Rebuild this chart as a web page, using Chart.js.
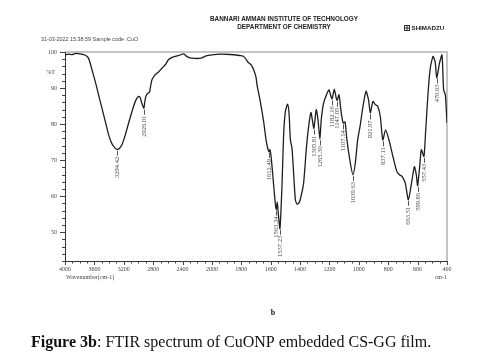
<!DOCTYPE html>
<html>
<head>
<meta charset="utf-8">
<script src="https://cdn.jsdelivr.net/npm/chart.js@4.4.1/dist/chart.umd.min.js"></script>
<style>
  html, body { margin: 0; padding: 0; background: #fff; }
  canvas { display: block; }
</style>
</head>
<body>
<canvas id="ftir" width="500" height="364"></canvas>
<script>
/* FTIR espectro CuONP / CS-GG (Shimadzu), eixo x com mudança de escala em 2000 cm-1 */

const wavenumbers = [
  4000, 3950, 3900, 3850, 3800, 3750, 3720, 3680, 3633, 3588, 3543, 3497, 3451, 3406, 3360, 3320,
  3294, 3260, 3224, 3179, 3134, 3088, 3043, 2998, 2980, 2961, 2945, 2926, 2915, 2900, 2884, 2862,
  2850, 2839, 2816, 2771, 2720, 2680, 2630, 2590, 2540, 2498, 2440, 2385, 2360, 2339, 2300, 2271,
  2200, 2135, 2080, 2000, 1943, 1875, 1807, 1790, 1773, 1760, 1750, 1734, 1716, 1700, 1693, 1671,
  1648, 1630, 1612, 1605, 1596, 1580, 1570, 1563, 1555, 1550, 1537, 1523, 1512, 1500, 1485, 1475,
  1466, 1455, 1444, 1432, 1421, 1410, 1399, 1376, 1358, 1342, 1326, 1316, 1306, 1290, 1278, 1265,
  1256, 1240, 1221, 1203, 1190, 1182, 1167, 1154, 1147, 1135, 1121, 1107, 1094, 1081, 1058, 1040,
  1024, 1008, 990, 972, 951, 934, 922, 904, 888, 872, 854, 837, 818, 795, 768, 741,
  720, 706, 684, 663, 638, 622, 609, 600, 586, 575, 557, 546, 529, 514, 495, 480,
  470, 451, 434, 423, 411, 400
];
const transmittance = [
  99.2, 99.4, 99.3, 99.6, 99.5, 99.3, 99.1, 98.3, 95.1, 91.8, 88.1, 84.4, 80.7, 77.0, 74.5, 73.4,
  73.0, 73.2, 74.3, 77.0, 80.3, 83.5, 86.3, 87.7, 87.5, 86.3, 85.2, 84.4, 86.0, 87.6, 88.3, 88.7,
  88.8, 90.0, 92.3, 93.7, 94.6, 95.5, 96.6, 97.9, 98.5, 98.8, 99.1, 99.5, 99.1, 98.7, 98.4, 98.3,
  98.2, 98.4, 98.9, 99.2, 99.4, 99.3, 99.0, 98.9, 98.3, 97.5, 97.0, 96.5, 95.1, 93.0, 90.9, 86.3,
  80.7, 75.2, 72.3, 72.9, 70.5, 63.1, 58.5, 56.3, 58.3, 56.0, 51.0, 63.0, 77.0, 83.5, 85.5, 83.0,
  75.6, 73.3, 66.4, 59.0, 57.8, 58.0, 59.0, 63.6, 72.9, 79.3, 83.2, 81.0, 78.8, 84.0, 81.2, 75.8,
  81.2, 85.8, 88.1, 89.5, 87.7, 87.0, 89.7, 87.2, 86.6, 88.1, 83.5, 80.3, 80.6, 75.6, 69.2, 65.9,
  69.2, 75.6, 79.8, 84.9, 89.1, 86.7, 83.1, 86.3, 85.4, 85.0, 82.1, 75.6, 78.4, 75.6, 71.0, 66.8,
  65.8, 65.5, 63.6, 59.0, 64.5, 68.2, 66.0, 62.9, 68.2, 72.9, 71.0, 77.5, 88.6, 95.5, 98.8, 97.1,
  92.8, 96.9, 99.2, 89.5, 88.0, 80.3
];

// picos marcados no espectro
const peakWaves  = [3294.42, 2926.01, 1612.49, 1563.34, 1537.23, 1305.81, 1265.30, 1182.16, 1147.05,
                    1107.14, 1039.63, 921.97, 837.11, 663.51, 599.86, 557.43, 470.63];
const peakLabels = ['3294.42', '2926.01', '1612.49', '1563.34', '1537.23', '1305.81', '1265.30', '1182.16', '1147.05',
                    '1107.14', '1039.63', '921.97', '837.11', '663.51', '599.86', '557.43', '470.63'];

const xTicks = [4000, 3600, 3200, 2800, 2400, 2000, 1800, 1600, 1400, 1200, 1000, 800, 600, 400];
const yTicks = [100, 90, 80, 70, 60, 50];
const yTickLabels = ['100', '90', '80', '70', '60', '50'];

const SPLIT = 2000;   // abaixo disso a escala fica 2x expandida
const warp = v => v <= SPLIT ? v : SPLIT + (v - SPLIT) / 2;
const unwarp = w => w <= SPLIT ? w : SPLIT + (w - SPLIT) * 2;

class WaveScale extends Chart.LinearScale {
  getPixelForValue(value) {
    if (value === null || value === undefined) return NaN;
    const a = warp(this.min), b = warp(this.max);
    return this.getPixelForDecimal((warp(value) - a) / (b - a));
  }
  getValueForPixel(pixel) {
    const a = warp(this.min), b = warp(this.max);
    return unwarp(a + this.getDecimalForPixel(pixel) * (b - a));
  }
}
WaveScale.id = 'wave';
WaveScale.defaults = Chart.LinearScale.defaults;
Chart.register(WaveScale);

function interpT(w) {
  for (let i = 0; i < wavenumbers.length - 1; i++) {
    const a = wavenumbers[i], b = wavenumbers[i + 1];
    if (w <= a && w >= b) {
      const f = (a - w) / (a - b);
      return transmittance[i] + f * (transmittance[i + 1] - transmittance[i]);
    }
  }
  return transmittance[transmittance.length - 1];
}

const serif = '"Liberation Serif", "Times New Roman", serif';
const sans = '"Liberation Sans", Arial, sans-serif';

const decorPlugin = {
  id: 'decor',
  beforeDatasetsDraw(chart) {
    const { ctx, chartArea: ca } = chart;
    const xs = chart.scales.x, ys = chart.scales.y;
    ctx.save();
    // moldura cinza (topo e direita)
    ctx.strokeStyle = '#c4c4c4';
    ctx.lineWidth = 2;
    ctx.beginPath();
    ctx.moveTo(ca.left, ca.top); ctx.lineTo(ca.right, ca.top); ctx.lineTo(ca.right, ca.bottom);
    ctx.stroke();
    // eixos
    ctx.strokeStyle = '#333';
    ctx.lineWidth = 1;
    ctx.beginPath();
    ctx.moveTo(ca.left + 0.5, ca.top); ctx.lineTo(ca.left + 0.5, ca.bottom + 0.5); ctx.lineTo(ca.right, ca.bottom + 0.5);
    ctx.stroke();

    // ticks y
    ctx.strokeStyle = '#444';
    ctx.beginPath();
    for (let v = 42; v <= 100; v += 2) {
      const y = Math.round(ys.getPixelForValue(v)) + 0.5;
      const len = v % 10 === 0 ? 5 : 3;
      ctx.moveTo(ca.left - len, y); ctx.lineTo(ca.left, y);
    }
    // ticks x
    for (let v = 400; v <= 4000; v += (v < SPLIT ? 50 : 100)) {
      const x = Math.round(xs.getPixelForValue(v)) + 0.5;
      const major = xTicks.includes(v);
      ctx.moveTo(x, ca.bottom); ctx.lineTo(x, ca.bottom + (major ? 4 : 2.5));
    }
    ctx.stroke();

    ctx.fillStyle = '#444';
    ctx.font = '6px ' + serif;
    ctx.textAlign = 'right';
    ctx.textBaseline = 'middle';
    yTicks.forEach((v, i) => ctx.fillText(yTickLabels[i], ca.left - 8, ys.getPixelForValue(v)));
    ctx.fillText('%T', ca.left - 10, ys.getPixelForValue(94.2));
    ctx.textAlign = 'center';
    xTicks.forEach(v => ctx.fillText(String(v), xs.getPixelForValue(v), ca.bottom + 8));
    ctx.textAlign = 'left';
    ctx.fillText('Wavenumber(cm-1)', ca.left + 1, ca.bottom + 16);
    ctx.textAlign = 'right';
    ctx.fillText('cm-1', ca.right, ca.bottom + 16);

    // rótulos dos picos
    ctx.strokeStyle = '#555';
    ctx.font = '6.5px ' + serif;
    peakWaves.forEach((w, i) => {
      const x = Math.round(xs.getPixelForValue(w)) + 0.5;
      const y = ys.getPixelForValue(interpT(w)) + 1.5;
      ctx.beginPath();
      ctx.moveTo(x, y); ctx.lineTo(x, y + 5);
      ctx.stroke();
      ctx.save();
      ctx.translate(x, y + 6);
      ctx.rotate(-Math.PI / 2);
      ctx.textAlign = 'right';
      ctx.textBaseline = 'middle';
      ctx.fillText(peakLabels[i], 0, 0);
      ctx.restore();
    });

    // cabeçalho
    ctx.fillStyle = '#222';
    ctx.textAlign = 'center';
    ctx.font = 'bold 6.4px ' + sans;
    ctx.fillText('BANNARI AMMAN INSTITUTE OF TECHNOLOGY', 284, 19);
    ctx.fillText('DEPARTMENT OF CHEMISTRY', 284, 27.5);
    ctx.textAlign = 'left';
    ctx.font = '5.4px ' + sans;
    ctx.fillStyle = '#444';
    ctx.fillText('31-03-2022 15:38:59 Sample code :CuO', 41, 40);
    // logo
    ctx.strokeStyle = '#333';
    ctx.strokeRect(404.5, 25.5, 5, 5);
    ctx.beginPath();
    ctx.moveTo(407, 25.5); ctx.lineTo(407, 30.5); ctx.moveTo(404.5, 28); ctx.lineTo(409.5, 28);
    ctx.stroke();
    ctx.fillStyle = '#222';
    ctx.font = 'bold 6.2px ' + sans;
    ctx.fillText('SHIMADZU', 411.5, 28.5);

    // legenda da figura
    ctx.font = 'bold 8px ' + serif;
    ctx.textAlign = 'center';
    ctx.fillText('b', 273, 313);
    ctx.textAlign = 'left';
    ctx.fillStyle = '#111';
    ctx.font = 'bold 16px ' + serif;
    const lead = 'Figure 3b';
    ctx.fillText(lead, 31, 343);
    const wLead = ctx.measureText(lead).width;
    ctx.font = '16px ' + serif;
    ctx.fillText(': FTIR spectrum of CuONP embedded CS-GG film.', 31 + wLead, 343);
    ctx.restore();
  }
};

new Chart(document.getElementById('ftir'), {
  type: 'line',
  data: {
    datasets: [{
      data: wavenumbers.map((w, i) => ({ x: w, y: transmittance[i] })),
      borderColor: '#1e1e1e', borderWidth: 1.3, pointRadius: 0, tension: 0.2, fill: false
    }]
  },
  options: {
    responsive: false,
    animation: false,
    devicePixelRatio: 1,
    layout: { padding: { left: 65, top: 52, right: 53, bottom: 103 } },
    plugins: { legend: { display: false }, tooltip: { enabled: false } },
    scales: {
      x: { type: 'wave', min: 400, max: 4000, reverse: true, display: false },
      y: { type: 'linear', min: 42, max: 100, display: false }
    }
  },
  plugins: [decorPlugin]
});
</script>
</body>
</html>
